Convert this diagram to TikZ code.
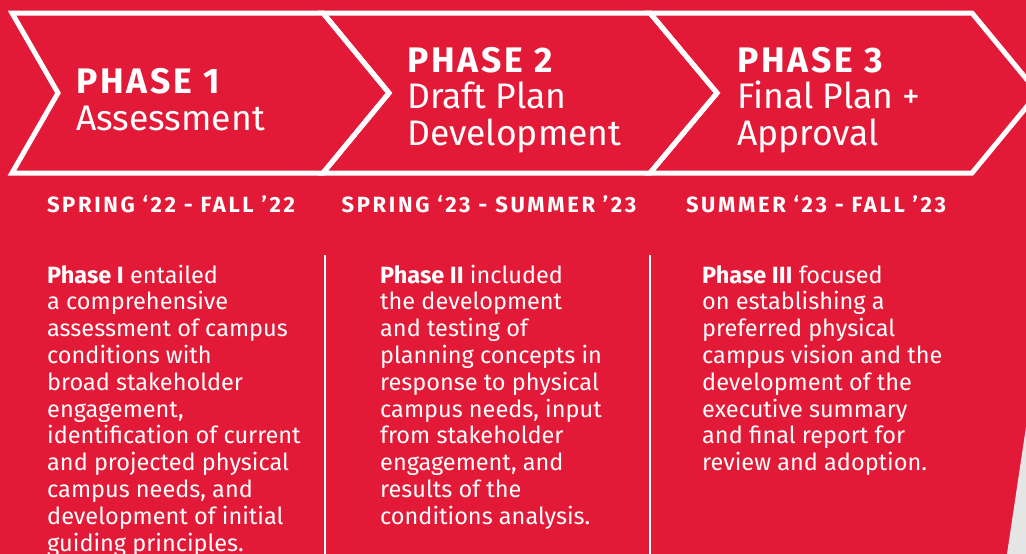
\documentclass[tikz,border=0pt]{standalone}
\usepackage{fontspec}
\setmainfont{Fira Sans}
\definecolor{phasered}{RGB}{227,26,55}
\definecolor{pagegray}{RGB}{229,229,229}
% multi-line nodes sit on the baseline of their last line
\newcommand{\phasehead}[1]{{\bfseries\addfontfeature{LetterSpace=8}#1}}
\tikzset{
  phasetitle/.style={anchor=base west,align=left,inner sep=0pt,text=white,
    font=\fontsize{35.5}{36.5}\selectfont},
  datelabel/.style={anchor=base,inner sep=0pt,text=white,
    font=\fontsize{22}{24}\selectfont\bfseries\addfontfeature{LetterSpace=12}},
  bodytext/.style={anchor=base west,align=left,inner sep=0pt,text=white,
    font=\fontsize{23.5}{26.8}\selectfont},
}
\begin{document}
\begin{tikzpicture}[x=1pt,y=-1pt]
  \useasboundingbox (0,0) rectangle (1026,554);
  \fill[phasered] (0,0) rectangle (1026,554);
  \fill[pagegray] (1026,427) -- (1007,554) -- (1026,554) -- cycle;
  % chevrons: left x / right x / tip x
  \def \Chevrons{
    12/323/58/389,
    323/650/389/717,
    650/972/717/1038}
  \foreach \l / \r / \lt / \rt in \Chevrons{
    \draw[white,line width=5pt,line join=miter]
      (\l,13) -- (\r,13) -- (\rt,93) -- (\r,173) -- (\l,173) -- (\lt,93) -- cycle;
  }
  % column dividers
  \foreach \x in {325,650}{
    \draw[white,line width=1.5pt] (\x,255) -- (\x,554);
  }
  \node[phasetitle,font=\fontsize{35.5}{37}\selectfont] (title1) at (76,130)
    {\phasehead{PHASE 1}\\Assessment};
  \node[phasetitle] (title2) at (407,145)
    {\phasehead{PHASE 2}\\Draft Plan\\Development};
  \node[phasetitle] (title3) at (737,145)
    {\phasehead{PHASE 3}\\Final Plan +\\Approval};
  \node[datelabel] (date1) at (171,212) {SPRING ‘22 - FALL ’22};
  \node[datelabel] (date2) at (489,212) {SPRING ‘23 - SUMMER ’23};
  \node[datelabel] (date3) at (816,212) {SUMMER ‘23 - FALL ’23};
  \node[bodytext] (body1) at (47,551)
    {\textbf{Phase I} entailed\\a comprehensive\\assessment of campus\\conditions with\\broad stakeholder\\engagement,\\identification of current\\and projected physical\\campus needs, and\\development of initial\\guiding principles.};
  \node[bodytext] (body2) at (380,524.2)
    {\textbf{Phase II} included\\the development\\and testing of\\planning concepts in\\response to physical\\campus needs, input\\from stakeholder\\engagement, and\\results of the\\conditions analysis.};
  \node[bodytext] (body3) at (702,470.6)
    {\textbf{Phase III} focused\\on establishing a\\preferred physical\\campus vision and the\\development of the\\executive summary\\and final report for\\review and adoption.};
\end{tikzpicture}
\end{document}
